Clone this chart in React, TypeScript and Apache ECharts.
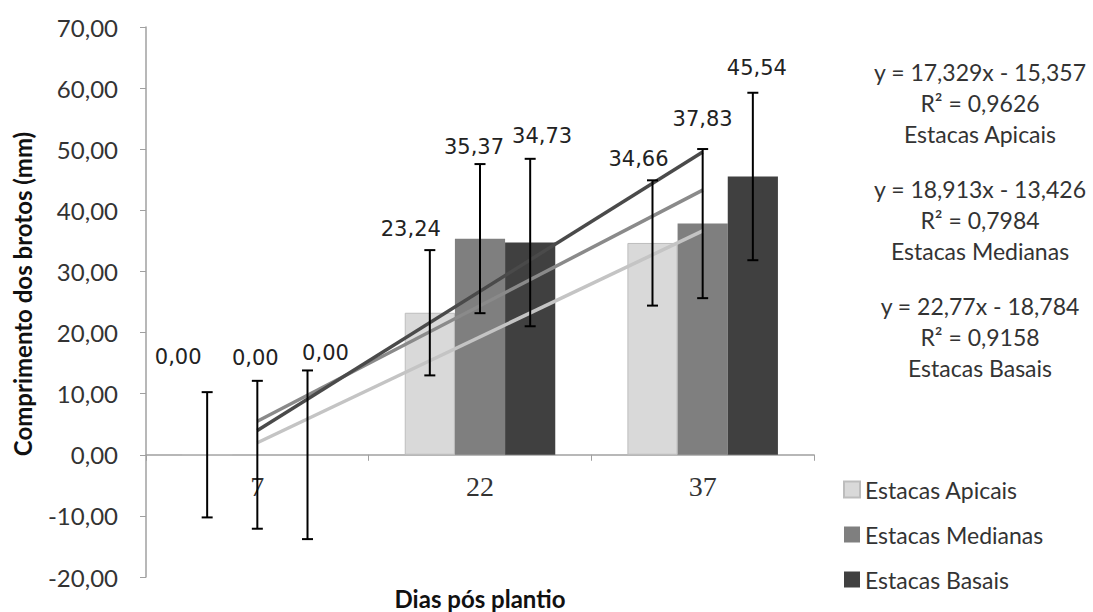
import React, { useEffect, useRef } from 'react';
import * as echarts from 'echarts';

// ---- data ----
const CATEGORIES = ['7', '22', '37'];
const SERIES_NAMES = ['Estacas Apicais', 'Estacas Medianas', 'Estacas Basais'];
const APICAIS = [0, 23.24, 34.66];
const MEDIANAS = [0, 35.37, 37.83];
const BASAIS = [0, 34.73, 45.54];
const ERR_APICAIS = [10.25, 10.25, 10.25];
const ERR_MEDIANAS = [12.1, 12.2, 12.2];
const ERR_BASAIS = [13.8, 13.7, 13.7];
// trend lines: value at first and last category
const TREND_APICAIS = [1.97, 36.63];
const TREND_MEDIANAS = [5.49, 43.31];
const TREND_BASAIS = [3.99, 49.53];
const Y_MIN = -20;
const Y_MAX = 70;
const Y_STEP = 10;
const EQUATIONS = [
  ['y = 17,329x - 15,357', 'R² = 0,9626', 'Estacas Apicais'],
  ['y = 18,913x - 13,426', 'R² = 0,7984', 'Estacas Medianas'],
  ['y = 22,77x - 18,784', 'R² = 0,9158', 'Estacas Basais'],
];

// ---- styling / layout ----
const BAR_COLORS = ['#d9d9d9', '#7f7f7f', '#404040'];
const TREND_COLORS = ['#c4c4c4', '#8a8a8a', '#4a4a4a'];
const CAT_GAP = 0.324;
// pixel nudges of each data label relative to the top of its error bar
const LABEL_NUDGE = [
  [[-29, -35], [-19, -21], [-14, -21]],
  [[-2, -23], [-6, -17], [0, -30]],
  [[18, -17], [12, -23], [4, -25]],
];
const SANS = 'Lato';
const GRID_TOP = 27;
const GRID_BOTTOM = 35;
const CHART_H = 612;
const fmt = (v: number) => v.toFixed(2).replace('.', ',');

export default function App() {
  const ref = useRef<HTMLDivElement>(null);
  useEffect(() => {
    const chart = echarts.init(ref.current!, null, { renderer: 'svg' });
    const values = [APICAIS, MEDIANAS, BASAIS];
    const errs = [ERR_APICAIS, ERR_MEDIANAS, ERR_BASAIS];
    const trends = [TREND_APICAIS, TREND_MEDIANAS, TREND_BASAIS];

    const errData: number[][] = [];
    values.forEach((arr, s) =>
      arr.forEach((v, c) => errData.push([c, v, errs[s][c], s]))
    );

    // place the category axis on the zero line (axis offset from grid bottom)
    const plotH = CHART_H - GRID_TOP - GRID_BOTTOM;
    const zeroOffset = -(plotH * (0 - Y_MIN)) / (Y_MAX - Y_MIN);

    const barSeries = values.map((arr, s) => ({
      name: SERIES_NAMES[s],
      type: 'bar',
      data: arr,
      barGap: '0%',
      barCategoryGap: CAT_GAP * 100 + '%',
      itemStyle: {
        color: BAR_COLORS[s],
        borderColor: s === 0 ? '#bdbdbd' : BAR_COLORS[s],
        borderWidth: s === 0 ? 1 : 0,
      },
      z: 2,
    }));

    const trendSeries = trends.map((t, s) => ({
      name: 'trend' + s,
      type: 'line',
      data: [
        [0, t[0]],
        [CATEGORIES.length - 1, t[1]],
      ],
      symbol: 'none',
      lineStyle: { color: TREND_COLORS[s], width: 3.5 },
      z: 3 + s * 0.1,
      silent: true,
    }));

    const errSeries = {
      type: 'custom',
      name: 'errors',
      data: errData,
      encode: { x: 0, y: 1 },
      z: 5,
      silent: true,
      renderItem: (params: any, api: any) => {
        const c = api.value(0);
        const v = api.value(1);
        const e = api.value(2);
        const s = api.value(3);
        const band = api.size([1, 0])[0];
        const barW = (band * (1 - CAT_GAP)) / 3;
        const cx = api.coord([c, 0])[0] + (s - 1) * barW;
        const yTop = api.coord([c, v + e])[1];
        const yBot = api.coord([c, v - e])[1];
        const cap = 5.5;
        const ls = { stroke: '#000', lineWidth: 2 };
        const nudge = LABEL_NUDGE[s][c];
        return {
          type: 'group',
          children: [
            { type: 'line', shape: { x1: cx, y1: yTop, x2: cx, y2: yBot }, style: ls },
            { type: 'line', shape: { x1: cx - cap, y1: yTop, x2: cx + cap, y2: yTop }, style: ls },
            { type: 'line', shape: { x1: cx - cap, y1: yBot, x2: cx + cap, y2: yBot }, style: ls },
            {
              type: 'text',
              style: {
                text: fmt(v),
                x: cx + nudge[0],
                y: yTop + nudge[1],
                fill: '#222',
                fontSize: 21,
                fontFamily: 'DejaVu Sans',
                align: 'center',
                verticalAlign: 'middle',
              },
            },
          ],
        };
      },
    };

    const eqGraphics: any[] = [];
    EQUATIONS.forEach((lines, b) =>
      lines.forEach((t, i) =>
        eqGraphics.push({
          type: 'text',
          x: 980,
          y: 72 + b * 117 + i * 31,
          style: {
            text: t,
            fill: '#333',
            fontSize: 23,
            fontFamily: SANS,
            align: 'center',
            verticalAlign: 'middle',
          },
        })
      )
    );

    chart.setOption({
      animation: false,
      backgroundColor: '#fff',
      grid: { left: 146, right: 279, top: GRID_TOP, bottom: GRID_BOTTOM },
      legend: {
        data: SERIES_NAMES,
        orient: 'vertical',
        left: 838,
        top: 473,
        itemWidth: 16,
        itemHeight: 16,
        itemGap: 22,
        icon: 'rect',
        textStyle: { fontFamily: SANS, fontSize: 23, color: '#333' },
        selectedMode: false,
      },
      xAxis: {
        type: 'category',
        data: CATEGORIES,
        offset: zeroOffset,
        axisLine: { onZero: false, lineStyle: { color: '#a0a0a0', width: 1.5 } },
        axisTick: { show: true, length: 6, lineStyle: { color: '#a0a0a0' } },
        axisLabel: {
          margin: 18,
          fontFamily: 'Liberation Serif',
          fontSize: 28,
          color: '#333',
        },
      },
      yAxis: {
        type: 'value',
        min: Y_MIN,
        max: Y_MAX,
        interval: Y_STEP,
        splitLine: { show: false },
        axisLine: { show: true, lineStyle: { color: '#a0a0a0', width: 1.5 } },
        axisTick: { show: true, length: 6, lineStyle: { color: '#a0a0a0' } },
        axisLabel: {
          margin: 28,
          formatter: (v: number) => fmt(v),
          fontFamily: SANS,
          fontSize: 24,
          color: '#333',
        },
      },
      graphic: [
        {
          type: 'text',
          x: 22,
          y: 294,
          rotation: Math.PI / 2,
          style: {
            text: 'Comprimento dos brotos (mm)',
            fill: '#111',
            fontSize: 24,
            fontWeight: 'bold',
            fontFamily: SANS,
            align: 'center',
            verticalAlign: 'middle',
          },
        },
        {
          type: 'text',
          x: 480,
          y: 598,
          style: {
            text: 'Dias pós plantio',
            fill: '#111',
            fontSize: 24,
            fontWeight: 'bold',
            fontFamily: SANS,
            align: 'center',
            verticalAlign: 'middle',
          },
        },
        ...eqGraphics,
      ],
      series: [...barSeries, ...trendSeries, errSeries],
    });
    return () => chart.dispose();
  }, []);
  return (
    <div
      ref={ref}
      style={{ position: 'absolute', left: 0, top: 0, width: 1093, height: 612, background: '#fff' }}
    />
  );
}
